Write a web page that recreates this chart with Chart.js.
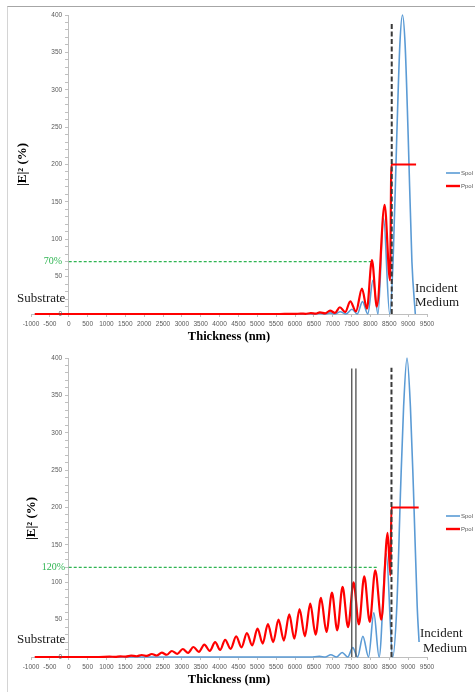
<!DOCTYPE html>
<html><head><meta charset="utf-8">
<script src="https://cdn.jsdelivr.net/npm/chart.js@4.4.0/dist/chart.umd.min.js"></script>
<style>
html,body{margin:0;padding:0;background:#fff;width:475px;height:692px;overflow:hidden;}
#frame{position:absolute;left:7px;top:6px;width:520px;height:720px;border-top:1px solid #a6a6a6;border-left:1px solid #d4d4d4;}
canvas{position:absolute;left:0;}
#c1{top:0}
#c2{top:343px}
</style></head>
<body>
<div id="frame"></div>
<canvas id="c1" width="475" height="346"></canvas>
<canvas id="c2" width="475" height="346"></canvas>
<script>
// ---------- axis tick labels ----------
const xTickValues = [-1000,-500,0,500,1000,1500,2000,2500,3000,3500,4000,4500,5000,5500,6000,6500,7000,7500,8000,8500,9000,9500];
const yTickLabels = [0,50,100,150,200,250,300,350,400];
const seriesNames = ['Spol','Ppol'];

// ---------- top chart ----------
const topSpolX = [-900,6000,6380,6520,6660,6800,6930,7060,7200,7350,7510,7650,7790,7930,8067,8200,8349,8510,8600,8700,8780,8850,8920,9000,9100,9190];
const topSpolY = [0,0,0.3,0,0.8,0,1.5,0,3,0,6.3,0,16.5,0,45,0,128,0,70,240,360,400,360,240,70,0];
const topPpolX = [-900,5600,5850,6000,6150,6280,6420,6550,6660,6800,6930,7060,7190,7330,7466,7616,7776,7906,8040,8170,8376,8520,8556,9210];
const topPpolY = [0,0,0.3,0.1,0.6,0.2,1.2,0.4,2.2,0.8,4.5,1.5,9,2.5,17,3.5,34,7,72,10,146,45,200,200];
const topLevel = 70;            // green dashed level (%)
const topLevelEnd = 8040;       // x where the green line stops
const topDashX = 8565;          // interface (dashed) line
const topDashTop = 390;
const topVLines = [];           // no solid lines on top chart

// ---------- bottom chart ----------
const botSpolX = [-900,6400,6650,6800,6950,7100,7250,7400,7530,7660,7800,7950,8090,8230,8421,8590,8700,8800,8880,8970,9060,9140,9240,9290];
const botSpolY = [0,0,0.8,0,3,0,6,0,12.5,0,27.6,0,59,0,138,0,68,225,335,400,335,225,68,20];
const botPpolX = [-900,800,1085,1230,1370,1510,1653,1795,1937,2070,2202,2335,2468,2600,2733,2880,3025,3166,3307,3450,3596,3740,3883,4015,4148,4294,4440,4582,4724,4865,5006,5143,5281,5422,5563,5705,5847,5983,6120,6262,6404,6546,6688,6834,6980,7120,7261,7407,7553,7694,7836,7982,8128,8290,8455,8530,8556,9280];
const botPpolY = [0,0,0.4,0.2,0.9,0.5,1.8,1.0,2.7,1.4,4,2,5.8,3,8,4.2,10.7,5.5,13.4,6.8,16.6,8.2,20,9.5,23,11,27.5,13,32,15.6,38,18,44,20,50,22,57,24.5,64,27.7,71.4,30,79,33.5,86,35.7,94,40,100,43.7,108,47,116,50,166,109,200,200];
const botLevel = 120;
const botLevelEnd = 8180;
const botDashX = 8558;
const botDashTop = 387;
const botVLines = [7505, 7615];  // two solid marker lines
const botVLineTop = 386;

// ---------- styling ----------
const BLUE = '#5b9bd5';
const RED = '#ff0000';
const GREEN = '#2fb552';
const AXIS = '#bfbfbf';
const TICKTXT = '#595959';

function pts(xs, ys){ return xs.map((x,i)=>({x:x, y:ys[i]})); }

function annotPlugin(a){
  return {
    id:'annot',
    afterDraw(chart){
      const ctx = chart.ctx;
      const ys = chart.scales.y;
      const xs = chart.scales.x;
      ctx.save();
      // y tick labels (axis crosses at x = 0)
      const ax = xs.getPixelForValue(0);
      ctx.fillStyle = TICKTXT;
      ctx.font = '6.5px "Liberation Sans"';
      ctx.textAlign = 'right';
      ctx.textBaseline = 'middle';
      yTickLabels.forEach(v=>{ ctx.fillText(String(v), ax - 6.5, ys.getPixelForValue(v)); });
      // y title
      ctx.save();
      ctx.translate(a.titleX, a.titleY);
      ctx.rotate(-Math.PI/2);
      ctx.fillStyle = '#000';
      ctx.font = 'bold 13px "Liberation Serif"';
      ctx.textAlign = 'center';
      ctx.textBaseline = 'middle';
      ctx.fillText('|E|\u00B2 (%)', 0, 0);
      ctx.restore();
      // Substrate / Incident Medium
      ctx.fillStyle = '#1a1a1a';
      ctx.font = '13px "Liberation Serif"';
      ctx.textAlign = 'left';
      ctx.textBaseline = 'alphabetic';
      ctx.fillText('Substrate', a.subX, a.subY);
      ctx.fillText('Incident', a.incX, a.incY);
      ctx.fillText('Medium', a.medX, a.medY);
      // green level label
      ctx.fillStyle = GREEN;
      ctx.font = '10px "Liberation Serif"';
      ctx.textAlign = 'right';
      ctx.textBaseline = 'middle';
      ctx.fillText(a.levelText, a.levelLabelX, ys.getPixelForValue(a.level));
      // legend
      const leg = [[seriesNames[0], BLUE, 1.6, a.legY1],[seriesNames[1], RED, 2.4, a.legY2]];
      ctx.font = '6px "Liberation Sans"';
      ctx.textAlign = 'left';
      ctx.textBaseline = 'middle';
      leg.forEach(([t,c,w,y])=>{
        ctx.strokeStyle = c; ctx.lineWidth = w;
        ctx.beginPath(); ctx.moveTo(446, y); ctx.lineTo(460, y); ctx.stroke();
        ctx.fillStyle = TICKTXT;
        ctx.fillText(t, 461, y);
      });
      ctx.restore();
    }
  };
}

function buildChart(id, d){
  const ds = [];
  ds.push({label:'interface', data:[{x:d.dashX,y:0},{x:d.dashX,y:d.dashTop}], borderColor:'#3a3a3a', borderWidth:2, borderDash:[5,2.5], tension:0, order:0, clip:10});
  d.vlines.forEach(v=>{
    ds.push({label:'mark', data:[{x:v,y:0},{x:v,y:d.vTop}], borderColor:'#4d4d4d', borderWidth:1.3, tension:0, order:0, clip:10});
  });
  ds.push({label:seriesNames[1], data:pts(d.px,d.py), borderColor:RED, borderWidth:2.2, cubicInterpolationMode:'monotone', order:1, clip:10});
  ds.push({label:seriesNames[0], data:pts(d.sx,d.sy), borderColor:BLUE, borderWidth:1.6, cubicInterpolationMode:'monotone', order:2, clip:10});
  ds.push({label:'level', data:[{x:0,y:d.level},{x:d.levelEnd,y:d.level}], borderColor:GREEN, borderWidth:1.2, borderDash:[3,2], tension:0, order:3, clip:10});

  return new Chart(document.getElementById(id), {
    type:'line',
    data:{datasets:ds},
    options:{
      responsive:false, animation:false, devicePixelRatio:1, events:[],
      elements:{point:{radius:0,hitRadius:0,hoverRadius:0}, line:{fill:false}},
      layout:{padding:{left:31,right:48,top:15,bottom:2}},
      plugins:{legend:{display:false}, tooltip:{enabled:false}},
      scales:{
        x:{type:'linear', min:-1000, max:9500, position:'bottom',
           afterBuildTicks:s=>{ s.ticks = xTickValues.map(v=>({value:v})); },
           afterFit:s=>{ s.height = 30; },
           ticks:{autoSkip:false, maxRotation:0, padding:3, font:{family:'Liberation Sans', size:6.5}, color:TICKTXT, callback:v=>String(v)},
           grid:{drawOnChartArea:false, drawTicks:true, tickLength:3, color:AXIS},
           border:{display:true, color:AXIS},
           title:{display:true, text:'Thickness (nm)', color:'#000', font:{family:'Liberation Serif', size:12.5, weight:'bold'}, padding:{top:0,bottom:0}}
        },
        y:{type:'linear', min:0, max:400, position:{x:0},
           ticks:{stepSize:10, autoSkip:false, font:{family:'Liberation Sans', size:6}, color:TICKTXT,
                  callback:()=>''},
           grid:{drawOnChartArea:false, drawTicks:true, tickLength:3, color:AXIS},
           border:{display:true, color:AXIS},
           title:{display:false}
        }
      }
    },
    plugins:[annotPlugin(d.annot)]
  });
}

buildChart('c1', {
  sx:topSpolX, sy:topSpolY, px:topPpolX, py:topPpolY,
  level:topLevel, levelEnd:topLevelEnd, dashX:topDashX, dashTop:topDashTop,
  vlines:topVLines, vTop:0,
  annot:{titleX:23, titleY:164.5, subX:17, subY:302, incX:415, incY:292, medX:415, medY:306,
         level:topLevel, levelText:'70%', levelLabelX:62, legY1:173, legY2:186}
});
buildChart('c2', {
  sx:botSpolX, sy:botSpolY, px:botPpolX, py:botPpolY,
  level:botLevel, levelEnd:botLevelEnd, dashX:botDashX, dashTop:botDashTop,
  vlines:botVLines, vTop:botVLineTop,
  annot:{titleX:32, titleY:175.5, subX:17, subY:300, incX:420, incY:294, medX:423, medY:309,
         level:botLevel, levelText:'120%', levelLabelX:65, legY1:173, legY2:186}
});
</script>
</body></html>
